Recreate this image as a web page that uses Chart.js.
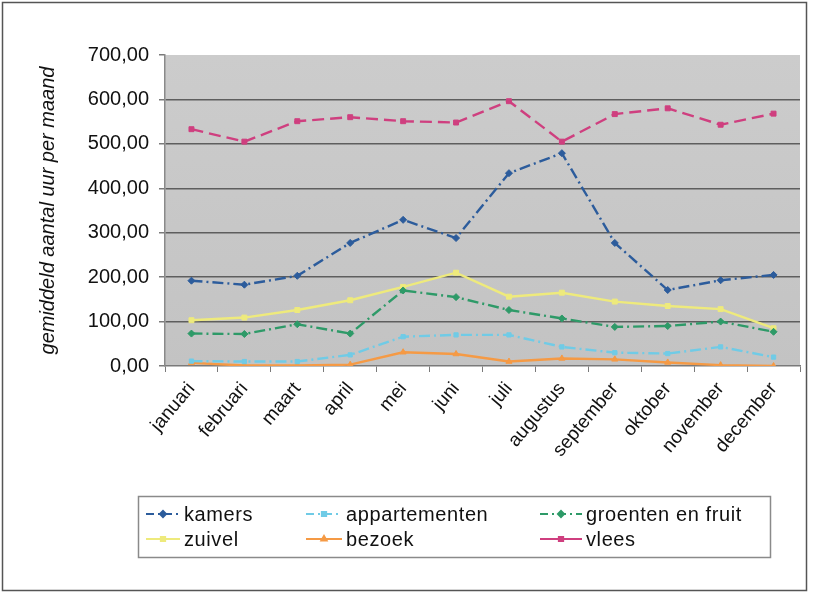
<!DOCTYPE html>
<html>
<head>
<meta charset="utf-8">
<script src="https://cdn.jsdelivr.net/npm/chart.js@4/dist/chart.umd.min.js"></script>
<style>
  html, body { margin: 0; padding: 0; background: #ffffff; }
  #wrap { width: 822px; height: 596px; position: relative; }
</style>
</head>
<body>
<div id="wrap"><canvas id="c" width="822" height="596"></canvas></div>
<script>
// Months on the category axis
const months = ['januari', 'februari', 'maart', 'april', 'mei', 'juni', 'juli',
  'augustus', 'september', 'oktober', 'november', 'december'];

// Average hours per month for each category
const kamers = [192, 183, 203, 277, 329, 288, 434, 479, 277, 171, 193, 205];
const appartementen = [11, 10, 10, 25, 66, 70, 70, 43, 30, 28, 43, 20];
const groentenEnFruit = [73, 72, 94, 73, 170, 155, 126, 107, 88, 90, 100, 77];
const zuivel = [103, 109, 126, 148, 178, 210, 156, 165, 145, 135, 128, 85];
const bezoek = [7, 1, 1, 3, 31, 27, 10, 17, 15, 8, 2, 0];
const vlees = [533, 505, 551, 560, 551, 548, 596, 505, 567, 580, 543, 568];

// Value axis
const yMin = 0, yMax = 700, yStep = 100;

const fmt = v => v.toFixed(2).replace('.', ',');
const FONT = '"Liberation Sans", Arial, sans-serif';

const series = [
  { label: 'kamers', data: kamers, color: '#2c5c9c', dash: [11, 4, 2, 4], marker: 'rectRot', r: 3.5 },
  { label: 'appartementen', data: appartementen, color: '#70cbe6', dash: [11, 4, 2, 4], marker: 'rect', r: 3 },
  { label: 'groenten en fruit', data: groentenEnFruit, color: '#2e9a68', dash: [11, 4, 2, 4], marker: 'rectRot', r: 3.5 },
  { label: 'zuivel', data: zuivel, color: '#eeea7c', dash: [], marker: 'rect', r: 3.5 },
  { label: 'bezoek', data: bezoek, color: '#f59a45', dash: [], marker: 'triangle', r: 3.5 },
  { label: 'vlees', data: vlees, color: '#cf3f7f', dash: [12, 6], marker: 'rect', r: 3.5 }
];

// Legend grid: three columns, two rows
const legendCols = [{ line: 146, text: 184 }, { line: 306, text: 346 }, { line: 540, text: 586 }];
const legendRows = [514, 539];

// Grey plot background, outer frame and a boxed legend
const decor = {
  id: 'decor',
  beforeDraw(chart) {
    const { ctx, chartArea: a } = chart;
    ctx.save();
    const g = ctx.createLinearGradient(0, a.top, 0, a.bottom);
    g.addColorStop(0, '#cccccc');
    g.addColorStop(1, '#c3c3c3');
    ctx.fillStyle = g;
    ctx.fillRect(a.left, a.top, a.right - a.left, a.bottom - a.top);
    ctx.strokeStyle = '#555555';
    ctx.lineWidth = 1.5;
    ctx.strokeRect(2.5, 2.5, 804, 588);
    ctx.restore();
  },
  afterDraw(chart) {
    const { ctx } = chart;
    ctx.save();
    ctx.strokeStyle = '#8a8a8a';
    ctx.lineWidth = 1.5;
    ctx.strokeRect(138.5, 496.5, 632, 61);
    ctx.font = '20px ' + FONT;
    ctx.letterSpacing = '0.6px';
    ctx.textBaseline = 'middle';
    ctx.textAlign = 'left';
    chart.data.datasets.forEach((ds, i) => {
      const col = legendCols[i % 3], y = legendRows[Math.floor(i / 3)];
      ctx.strokeStyle = ds.borderColor;
      ctx.lineWidth = 2;
      ctx.setLineDash(ds.borderDash && ds.borderDash.length === 4 ? [8, 4, 2, 4] : []);
      ctx.beginPath();
      ctx.moveTo(col.line, y);
      ctx.lineTo(col.text - 4, y);
      ctx.stroke();
      ctx.setLineDash([]);
      ctx.fillStyle = ds.borderColor;
      Chart.helpers.drawPoint(ctx, { pointStyle: ds.pointStyle, radius: 3, borderWidth: 1 }, (col.line + col.text - 4) / 2, y);
      ctx.fillStyle = '#111111';
      ctx.fillText(ds.label, col.text, y + 1);
    });
    ctx.restore();
  }
};

new Chart(document.getElementById('c'), {
  type: 'line',
  data: {
    labels: months,
    datasets: series.map(s => ({
      label: s.label,
      data: s.data,
      borderColor: s.color,
      backgroundColor: s.color,
      borderWidth: 2.4,
      borderDash: s.dash,
      pointStyle: s.marker,
      pointRadius: s.r,
      pointBorderWidth: 1,
      pointBorderColor: s.color,
      pointBackgroundColor: s.color,
      tension: 0,
      fill: false
    }))
  },
  options: {
    responsive: false,
    animation: false,
    devicePixelRatio: 1,
    layout: { padding: { left: 36, right: 22, top: 55, bottom: 130 } },
    plugins: {
      legend: { display: false },
      tooltip: { enabled: false }
    },
    scales: {
      x: {
        offset: true,
        grid: {
          offset: true,
          drawOnChartArea: false,
          drawTicks: true,
          tickLength: 6,
          color: '#7a7a7a'
        },
        border: { display: true, color: '#7a7a7a', width: 1.5 },
        ticks: {
          minRotation: 50,
          maxRotation: 50,
          autoSkip: false,
          padding: 6,
          color: '#111111',
          font: { family: FONT, size: 19 }
        },
        afterFit(scale) { scale.height = 100; }
      },
      y: {
        min: yMin,
        max: yMax,
        ticks: {
          stepSize: yStep,
          padding: 10,
          color: '#111111',
          font: { family: FONT, size: 20 },
          callback: v => fmt(v)
        },
        grid: {
          color: ctx => (ctx.tick && (ctx.tick.value === yMax || ctx.tick.value === yMin)) ? 'rgba(0,0,0,0)' : '#5e5e5e',
          tickColor: '#7a7a7a',
          lineWidth: 1.5,
          drawTicks: true,
          tickLength: 6
        },
        border: { display: true, color: '#8a8a8a', width: 1.5 },
        title: {
          display: true,
          text: 'gemiddeld aantal uur per maand',
          color: '#111111',
          padding: { top: 0, bottom: 2 },
          font: { family: FONT, size: 20, style: 'italic' }
        },
        afterFit(scale) { scale.width = 129; }
      }
    }
  },
  plugins: [decor]
});
</script>
</body>
</html>
